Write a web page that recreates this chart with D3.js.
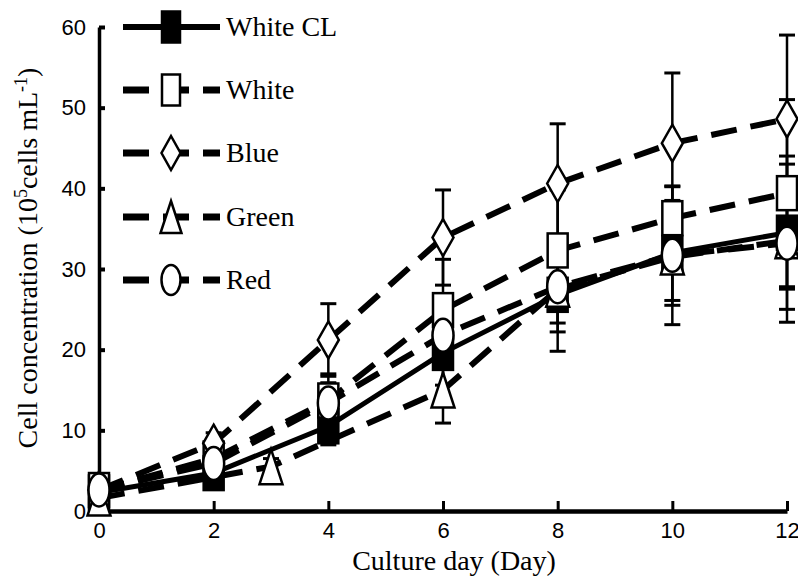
<!DOCTYPE html>
<html>
<head>
<meta charset="utf-8">
<script src="https://cdn.jsdelivr.net/npm/d3@7"></script>
<style>
body { margin: 0; background: #fff; }
</style>
</head>
<body>
<svg width="798" height="577"></svg>
<script>

// culture days
var days = [0, 2, 4, 6, 8, 10, 12];
var greenDays = [0, 3, 6, 8, 10, 12];

// cell concentration (10^5 cells/mL) and error bars
var whiteCL = [2.3, 4.7, 10.5, 19.6, 26.8, 32.0, 34.5];
var whiteCLErr = [0.5, 0.8, 2.3, 4.0, 7.0, 6.5, 9.5];
var white = [2.6, 6.5, 13.7, 24.9, 32.3, 36.3, 39.4];
var whiteErr = [0.5, 1.0, 3.3, 6.3, 7.5, 3.9, 11.6];
var blue = [2.6, 8.4, 21.2, 33.9, 40.6, 45.6, 48.6];
var blueErr = [0.5, 1.3, 4.5, 5.9, 7.4, 8.7, 10.4];
var green = [1.6, 5.5, 15.0, 27.5, 31.5, 33.5];
var greenErr = [0.3, 1.0, 4.1, 4.2, 5.4, 6.0];
var red = [2.6, 5.9, 13.4, 21.8, 27.8, 31.7, 33.2];
var redErr = [0.5, 1.0, 2.5, 3.5, 5.6, 8.6, 9.8];

var xTicks = [0, 2, 4, 6, 8, 10, 12];
var yTicks = [0, 10, 20, 30, 40, 50, 60];

var names = ["White CL", "White", "Blue", "Green", "Red"];

var series = [
    {name: names[0], x: days, y: whiteCL, e: whiteCLErr, shape: "square", fill: "#000", dashed: false},
    {name: names[1], x: days, y: white, e: whiteErr, shape: "square", fill: "#fff", dashed: true},
    {name: names[2], x: days, y: blue, e: blueErr, shape: "diamond", fill: "#fff", dashed: true},
    {name: names[3], x: greenDays, y: green, e: greenErr, shape: "triangle", fill: "#fff", dashed: true},
    {name: names[4], x: days, y: red, e: redErr, shape: "circle", fill: "#fff", dashed: true}
];

var svg = d3.select("svg");

var scaleX = d3.scaleLinear().domain([0, 12]).range([99, 787]);
var scaleY = d3.scaleLinear().domain([0, 60]).range([511, 27]);

var serif = "'Liberation Serif', 'Times New Roman', serif";
var sans = "'Liberation Sans', Arial, sans-serif";

// axes
var yAxis = svg.append("g")
    .attr("transform", "translate(99,0)")
    .call(d3.axisLeft(scaleY).tickValues(yTicks).tickSizeInner(-6).tickSizeOuter(0).tickPadding(13));
yAxis.select(".domain").attr("stroke-width", 3.5);
yAxis.selectAll(".tick line").attr("stroke-width", 4);
yAxis.selectAll("text").attr("font-family", sans).attr("font-size", 22).attr("fill", "#000");

var xAxis = svg.append("g")
    .attr("transform", "translate(0,511)")
    .call(d3.axisBottom(scaleX).tickValues(xTicks).tickSizeInner(-10).tickSizeOuter(0).tickPadding(11));
xAxis.select(".domain").attr("stroke-width", 4.5);
xAxis.selectAll(".tick line").attr("stroke-width", 3);
xAxis.selectAll("text").attr("font-family", sans).attr("font-size", 22).attr("fill", "#000");

svg.append("text")
    .attr("x", 454).attr("y", 570)
    .attr("text-anchor", "middle")
    .attr("font-family", serif).attr("font-size", 28)
    .text("Culture day (Day)");

var yTitle = svg.append("text")
    .attr("transform", "translate(37,258) rotate(-90)")
    .attr("text-anchor", "middle")
    .attr("font-family", serif).attr("font-size", 28);
yTitle.append("tspan").text("Cell concentration (10");
yTitle.append("tspan").attr("font-size", 18).attr("dy", -10).text("5");
yTitle.append("tspan").attr("dy", 10).text("cells mL");
yTitle.append("tspan").attr("font-size", 18).attr("dy", -10).text("-1");
yTitle.append("tspan").attr("dy", 10).text(")");

function drawMarker(g, shape, fill, w, h) {
    var m;
    if (shape == "square") {
        m = g.append("rect").attr("x", -w / 2).attr("y", -h / 2).attr("width", w).attr("height", h);
    } else if (shape == "diamond") {
        m = g.append("path").attr("d", "M0," + (-h / 2) + "L" + (w / 2) + ",0L0," + (h / 2) + "L" + (-w / 2) + ",0Z");
    } else if (shape == "triangle") {
        m = g.append("path").attr("d", "M0," + (-h / 2) + "L" + (w / 2) + "," + (h / 2) + "L" + (-w / 2) + "," + (h / 2) + "Z");
    } else {
        m = g.append("ellipse").attr("rx", w / 2).attr("ry", h / 2);
    }
    m.attr("fill", fill).attr("stroke", "#000").attr("stroke-width", 2.5);
}

function markerSize(shape) {
    if (shape == "diamond") return [21, 37];
    if (shape == "triangle") return [23, 35];
    if (shape == "circle") return [21, 33];
    return [20, 34];
}

// error bars
series.forEach(function(s) {
    var g = svg.append("g").attr("stroke", "#000");
    s.y.forEach(function(v, i) {
        var cx = scaleX(s.x[i]);
        var top = scaleY(v + s.e[i]);
        var bot = scaleY(v - s.e[i]);
        g.append("line").attr("x1", cx).attr("x2", cx).attr("y1", top).attr("y2", bot).attr("stroke-width", 2.5);
        g.append("line").attr("x1", cx - 8).attr("x2", cx + 8).attr("y1", top).attr("y2", top).attr("stroke-width", 3);
        g.append("line").attr("x1", cx - 8).attr("x2", cx + 8).attr("y1", bot).attr("y2", bot).attr("stroke-width", 3);
    });
});

// lines
var line = d3.line().x(function(d) { return scaleX(d[0]); }).y(function(d) { return scaleY(d[1]); });
series.forEach(function(s) {
    var pts = s.y.map(function(v, i) { return [s.x[i], v]; });
    svg.append("path")
        .attr("d", line(pts))
        .attr("fill", "none")
        .attr("stroke", "#000")
        .attr("stroke-width", s.dashed ? 6 : 5)
        .attr("stroke-dasharray", s.dashed ? "26,14" : null);
});

// markers
series.forEach(function(s) {
    var sz = markerSize(s.shape);
    s.y.forEach(function(v, i) {
        var g = svg.append("g").attr("transform", "translate(" + scaleX(s.x[i]) + "," + scaleY(v) + ")");
        drawMarker(g, s.shape, s.fill, sz[0], sz[1]);
    });
});

// legend
var legendY = [27, 90, 153, 217, 280];
series.forEach(function(s, i) {
    var ly = legendY[i];
    svg.append("line")
        .attr("x1", 123).attr("x2", 220).attr("y1", ly).attr("y2", ly)
        .attr("stroke", "#000")
        .attr("stroke-width", s.dashed ? 7 : 6)
        .attr("stroke-dasharray", s.dashed ? "26,14" : null);
    var sz = markerSize(s.shape);
    var g = svg.append("g").attr("transform", "translate(171," + ly + ")");
    drawMarker(g, s.shape, s.fill, sz[0] - 2, sz[1] - 3);
    svg.append("text")
        .attr("x", 226).attr("y", ly + 9)
        .attr("font-family", serif).attr("font-size", 28)
        .text(s.name);
});

</script>
</body>
</html>
